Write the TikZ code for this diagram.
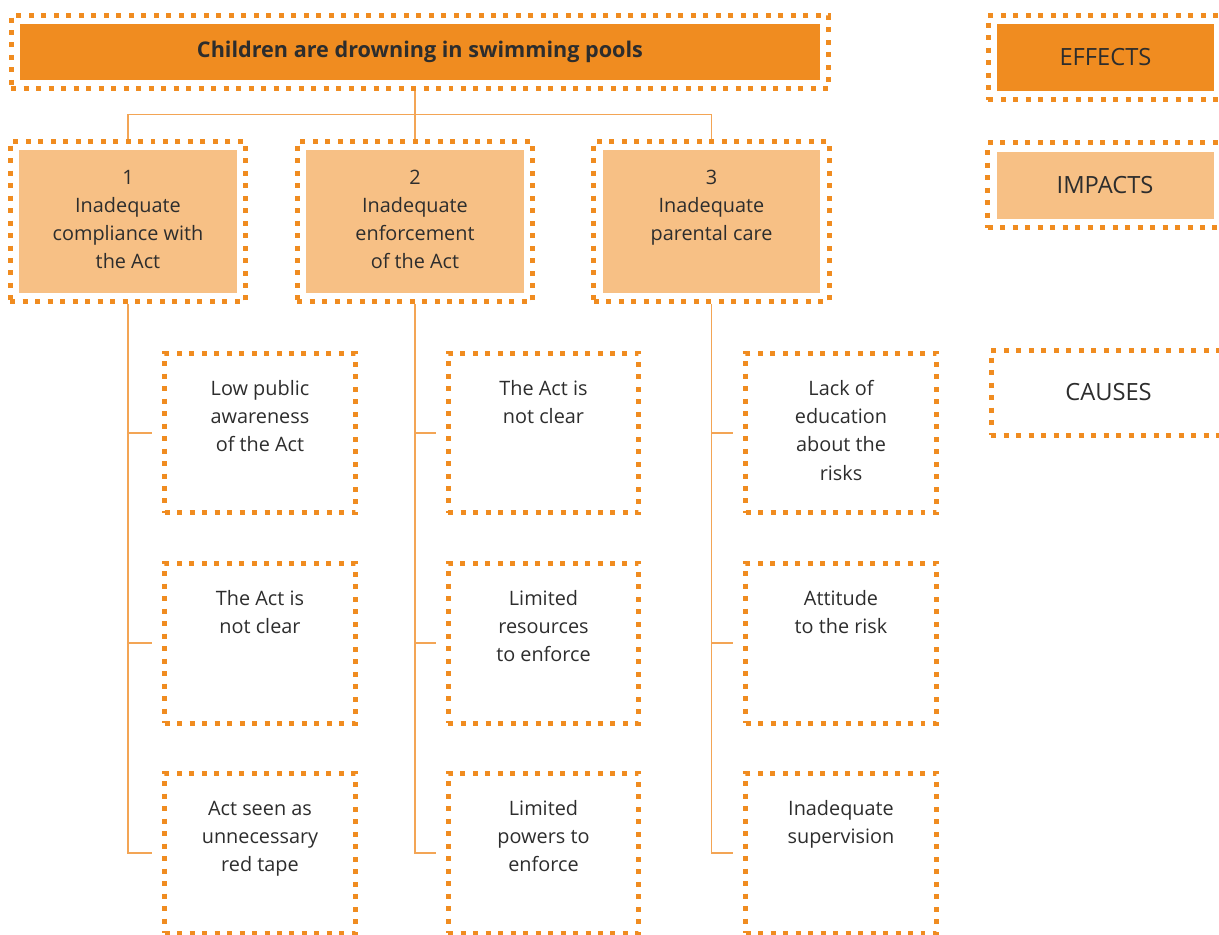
\documentclass[tikz,border=0pt]{standalone}
\usepackage{fontspec}
\setmainfont{Open Sans}
\usetikzlibrary{positioning}
\definecolor{dotorange}{RGB}{240,140,32}
\definecolor{effectfill}{RGB}{240,140,32}
\definecolor{impactfill}{RGB}{247,192,133}
\definecolor{linkorange}{RGB}{243,165,85}
\definecolor{textgrey}{RGB}{45,45,45}
\newcommand{\boxtext}[1]{\parbox[c][2.28cm][t]{3.6cm}{\centering\strut #1}}
\begin{document}
\begin{tikzpicture}[x=0.02cm, y=-0.02cm,
		font=\fontsize{11.3}{16}\selectfont, text=textgrey,
		frame/.style={draw=dotorange, line width=0.1cm, dash pattern=on 0.1cm off 0.15cm, inner sep=0pt},
		insetfill/.style={path picture={\fill[#1] ([shift={(0.18cm,-0.18cm)}]path picture bounding box.north west) rectangle ([shift={(-0.18cm,0.18cm)}]path picture bounding box.south east);}},
		impact/.style={frame, insetfill=impactfill, minimum width=4.72cm, minimum height=3.22cm},
		cause/.style={frame, minimum width=3.82cm, minimum height=3.2cm},
		key/.style={frame, minimum width=4.7cm, minimum height=1.7cm, font=\fontsize{13.5}{16}\selectfont},
		link/.style={draw=linkorange, line width=0.8pt}
		]
	\useasboundingbox (0,0) rectangle (1219,934);
	\node [frame, insetfill=effectfill, minimum width=16.36cm, minimum height=1.48cm, font=\fontsize{12.3}{16}\selectfont\bfseries] (eff) at (420,52) {Children are drowning in swimming pools};
	\node [impact] (i1) at (128,221.5) {\boxtext{1\\Inadequate\\compliance with\\the Act}};
	\node [impact] (i2) at (415,221.5) {\boxtext{2\\Inadequate\\enforcement\\of the Act}};
	\node [impact] (i3) at (711.5,221.5) {\boxtext{3\\Inadequate\\parental care}};
	\node [cause] (c11) at (260,433) {\boxtext{Low public\\awareness\\of the Act}};
	\node [cause] (c12) at (260,643) {\boxtext{The Act is\\not clear}};
	\node [cause] (c13) at (260,853) {\boxtext{Act seen as\\unnecessary\\red tape}};
	\node [cause] (c21) at (543.5,433) {\boxtext{The Act is\\not clear}};
	\node [cause] (c22) at (543.5,643) {\boxtext{Limited\\resources\\to enforce}};
	\node [cause] (c23) at (543.5,853) {\boxtext{Limited\\powers to\\enforce}};
	\node [cause] (c31) at (841,433) {\boxtext{Lack of\\education\\about the\\risks}};
	\node [cause] (c32) at (841,643) {\boxtext{Attitude\\to the risk}};
	\node [cause] (c33) at (841,853) {\boxtext{Inadequate\\supervision}};
	% key
	\node [key, insetfill=effectfill] (keyeff) at (1105.5,57.5) {EFFECTS};
	\node [key, insetfill=impactfill] (keyimp) at (1105,185) {IMPACTS};
	\node [key] (keycau) at (1108.5,392.5) {CAUSES};
	% connectors
	\draw [link] (i2.north) -- (i2.north |- eff.south);
	\draw [link] (i1.north) -- ++(0,-24) -| (i3.north);
	\foreach \i in {1,2,3}
		\foreach \j in {1,2,3}
			\draw [link, shorten >=0.2cm] (i\i.south) |- (c\i\j.west);
\end{tikzpicture}
\end{document}
